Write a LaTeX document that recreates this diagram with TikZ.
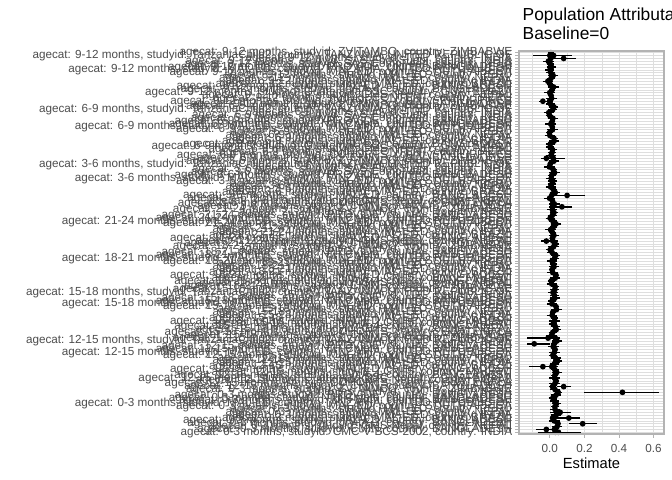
\documentclass[tikz,border=0pt]{standalone}
\usepackage{fontspec}
\setmainfont{Liberation Sans}
\definecolor{gthirty}{HTML}{4D4D4D}
\definecolor{gseventy}{HTML}{B3B3B3}
\definecolor{geightyseven}{HTML}{DEDEDE}
\newcommand\TZ{TANZANIA, UNITED REPUBLIC OF}
\newcommand\SA{SOUTH AFRICA}
\tikzset{
  lab/.style={text=gthirty,anchor=east,inner sep=0pt,font=\fontsize{11.7bp}{13bp}\selectfont},
  tcklab/.style={text=gthirty,anchor=base,inner sep=0pt,font=\fontsize{11.7bp}{13bp}\selectfont},
  tck/.style={draw=gseventy,line width=0.9bp},
  gridmaj/.style={draw=geightyseven,line width=0.6bp},
  gridmin/.style={draw=geightyseven,line width=0.35bp},
  ebar/.style={draw=black,line width=1.4bp},
  dot/.style={fill=black},
}
\newcommand\agegroup[3]{%
  \foreach \st/\co [count=\k from #2] in {#3}{%
    \pgfmathsetmacro\yy{51+(0.6+\k)*2.854}%
    \node[lab] (lab\k) at (512.4,\yy) {agecat: #1 months, studyid: \st, country: \co};
    \draw[tck] (515.3,\yy) -- (519,\yy);
  }%
}
\begin{document}
\begin{tikzpicture}[x=1bp,y=-1bp]
\useasboundingbox (0,0) rectangle (672,480);
\fill[white] (0,0) rectangle (672,480);
% panel background and grid
\fill[white] (519,51) rectangle (664,434);
\foreach \r in {0,...,133}{
  \pgfmathsetmacro\yy{51+(0.6+\r)*2.854}
  \draw[gridmaj] (519,\yy) -- (664,\yy);
}
\foreach \v in {-0.1,0.1,0.3,0.5}{
  \pgfmathsetmacro\xx{549.8+173*\v}
  \draw[gridmin] (\xx,51) -- (\xx,434);
}
\foreach \v in {0,0.2,0.4,0.6}{
  \pgfmathsetmacro\xx{549.8+173*\v}
  \draw[gridmaj] (\xx,51) -- (\xx,434);
}
% estimates
\foreach \r in {0,...,133}{
  \pgfmathsetmacro\yy{51+(0.6+\r)*2.854}
  \pgfmathsetmacro\e{0.004+0.03*\r/133+0.011*sin(\r*97.5)+0.007*sin(\r*61+20)}
  \pgfmathsetmacro\h{0.015+0.016*abs(sin(\r*83))}
  \pgfmathsetmacro\xe{549.8+173*\e}
  \pgfmathsetmacro\xl{549.8+173*(\e-\h)}
  \pgfmathsetmacro\xh{549.8+173*(\e+\h)}
  \draw[ebar] (\xl,\yy) -- (\xh,\yy);
  \fill[dot] (\xe,\yy) circle (2.9);
}
\foreach \r/\e/\lo/\hi in {1/0.0/-0.1/0.13, 2/0.08/-0.01/0.15, 17/-0.04/-0.06/-0.01,
  37/-0.02/-0.05/0.09, 50/0.10/0.0/0.205, 54/0.07/0.0/0.13, 66/-0.02/-0.05/0.01,
  100/-0.01/-0.13/0.06, 102/-0.09/-0.13/0.0, 110/-0.04/-0.12/0.05, 117/0.08/0.04/0.12,
  119/0.42/0.20/0.63, 126/0.06/0.0/0.12, 128/0.11/0.03/0.175, 130/0.19/0.11/0.27,
  132/-0.02/-0.08/0.04, 133/0.05/-0.07/0.18}{
  \pgfmathsetmacro\yy{51+(0.6+\r)*2.854}
  \pgfmathsetmacro\xe{549.8+173*\e}
  \pgfmathsetmacro\xl{549.8+173*\lo}
  \pgfmathsetmacro\xh{549.8+173*\hi}
  \draw[ebar] (\xl,\yy) -- (\xh,\yy);
  \fill[dot] (\xe,\yy) circle (2.9);
}
\draw[gseventy,line width=1.3bp] (519,51) rectangle (664,434);
% y labels
\agegroup{9-12}{0}{ZVITAMBO/ZIMBABWE, TanzaniaChild2/\TZ, TDC/INDIA, SAS-FoodSuppl/INDIA, SAS-CompFeed/INDIA, PROVIDE/BANGLADESH, MAL-ED/\TZ, MAL-ED/\SA, MAL-ED/PERU, MAL-ED/NEPAL, MAL-ED/INDIA, MAL-ED/BRAZIL, MAL-ED/BANGLADESH, JiVitA-4/BANGLADESH, Guatemala BSC/GUATEMALA, GMS-Nepal/NEPAL, CONTENT/PERU, COHORTS/PHILIPPINES, CMIN/BANGLADESH}
\agegroup{6-9}{19}{ZVITAMBO/ZIMBABWE, TanzaniaChild2/\TZ, TDC/INDIA, SAS-FoodSuppl/INDIA, SAS-CompFeed/INDIA, PROVIDE/BANGLADESH, NIH-Crypto/BANGLADESH, MAL-ED/\TZ, MAL-ED/\SA, MAL-ED/PERU, MAL-ED/NEPAL, MAL-ED/INDIA, MAL-ED/BRAZIL, MAL-ED/BANGLADESH, Guatemala BSC/GUATEMALA, GMS-Nepal/NEPAL, CONTENT/PERU, COHORTS/PHILIPPINES, CMIN/BANGLADESH}
\agegroup{3-6}{38}{ZVITAMBO/ZIMBABWE, TanzaniaChild2/\TZ, TDC/INDIA, SAS-FoodSuppl/INDIA, SAS-CompFeed/INDIA, PROVIDE/BANGLADESH, MAL-ED/\TZ, MAL-ED/\SA, MAL-ED/PERU, MAL-ED/NEPAL, MAL-ED/INDIA, MAL-ED/BRAZIL, MAL-ED/BANGLADESH, JiVitA-4/BANGLADESH, GMS-Nepal/NEPAL, COHORTS/GUATEMALA, CMIN/BANGLADESH}
\agegroup{21-24}{55}{ZVITAMBO/ZIMBABWE, TDC/INDIA, PROVIDE/BANGLADESH, NIH-Crypto/BANGLADESH, MAL-ED/\TZ, MAL-ED/\SA, MAL-ED/PERU, MAL-ED/NEPAL, MAL-ED/INDIA, MAL-ED/BRAZIL, MAL-ED/BANGLADESH, GMS-Nepal/NEPAL, CMIN/BANGLADESH}
\agegroup{18-21}{68}{ZVITAMBO/ZIMBABWE, TDC/INDIA, PROVIDE/BANGLADESH, NIH-Crypto/BANGLADESH, MAL-ED/\TZ, MAL-ED/\SA, MAL-ED/PERU, MAL-ED/NEPAL, MAL-ED/INDIA, MAL-ED/BRAZIL, MAL-ED/BANGLADESH, LCNI-5/MALAWI, JiVitA-4/BANGLADESH, GMS-Nepal/NEPAL, CMIN/BANGLADESH}
\agegroup{15-18}{83}{ZVITAMBO/ZIMBABWE, TanzaniaChild2/\TZ, TDC/INDIA, PROVIDE/BANGLADESH, NIH-Crypto/BANGLADESH, MAL-ED/\TZ, MAL-ED/\SA, MAL-ED/PERU, MAL-ED/NEPAL, MAL-ED/INDIA, MAL-ED/BRAZIL, MAL-ED/BANGLADESH, LCNI-5/MALAWI, JiVitA-4/BANGLADESH, GMS-Nepal/NEPAL, COHORTS/GUATEMALA, CMIN/BANGLADESH}
\agegroup{12-15}{100}{ZVITAMBO/ZIMBABWE, TanzaniaChild2/\TZ, TDC/INDIA, PROVIDE/BANGLADESH, NIH-Crypto/BANGLADESH, MAL-ED/\TZ, MAL-ED/\SA, MAL-ED/PERU, MAL-ED/NEPAL, MAL-ED/INDIA, MAL-ED/BRAZIL, MAL-ED/BANGLADESH, LCNI-5/MALAWI, JiVitA-4/BANGLADESH, Guatemala BSC/GUATEMALA, GMS-Nepal/NEPAL, COHORTS/GUATEMALA, CMIN/BANGLADESH}
\agegroup{0-3}{118}{ZVITAMBO/ZIMBABWE, TDC/INDIA, PROVIDE/BANGLADESH, NIH-Crypto/BANGLADESH, NIH-Birth/BANGLADESH, MAL-ED/\TZ, MAL-ED/\SA, MAL-ED/PERU, MAL-ED/NEPAL, MAL-ED/INDIA, MAL-ED/BRAZIL, MAL-ED/BANGLADESH, JiVitA-3/BANGLADESH, GMS-Nepal/NEPAL, CMIN/BANGLADESH, CMC-V-BCS-2002/INDIA}
% x axis
\foreach \v/\t [count=\i] in {0/0.0,0.2/0.2,0.4/0.4,0.6/0.6}{
  \pgfmathsetmacro\xx{549.8+173*\v}
  \draw[tck] (\xx,434) -- (\xx,437.7);
  \node[tcklab] (xt\i) at (\xx,452) {\t};
}
\node[anchor=base,inner sep=0pt,font=\fontsize{14.7bp}{16bp}\selectfont] (xtitle) at (591.5,468) {Estimate};
\node[anchor=base west,inner sep=0pt,font=\fontsize{17.4bp}{19bp}\selectfont] (title1) at (522.5,20.5) {Population Attributable Fraction};
\node[anchor=base west,inner sep=0pt,font=\fontsize{17.4bp}{19bp}\selectfont] (title2) at (522.5,39.5) {Baseline=0};
\end{tikzpicture}
\end{document}
